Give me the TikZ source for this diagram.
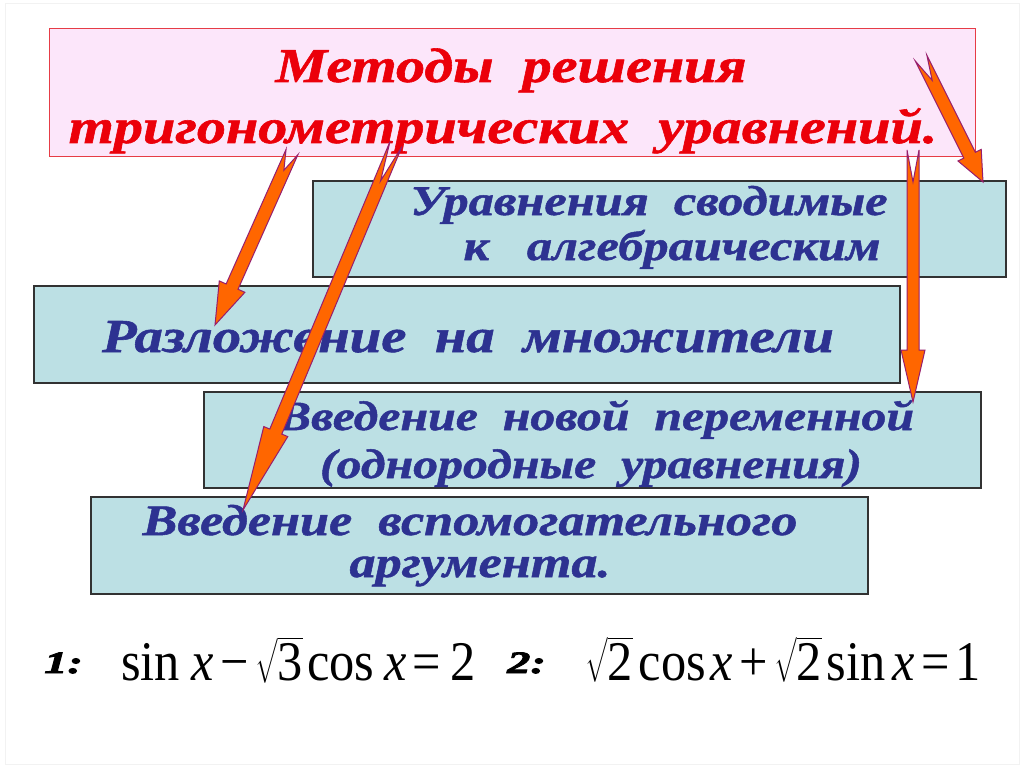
\documentclass[tikz,border=0pt]{standalone}
\usepackage{fontspec}
\usepackage{amsmath}
\usepackage{graphicx}
\setmainfont{Liberation Serif}
\newfontfamily\wfont[FakeStretch=1.2,FakeBold=1.2]{Liberation Serif}
\newfontfamily\lblfont[FakeStretch=1.5,FakeBold=3]{Liberation Serif}
\usetikzlibrary{calc}
\definecolor{titlefill}{RGB}{252,230,250}
\definecolor{titledraw}{RGB}{230,60,70}
\definecolor{titletext}{RGB}{235,0,10}
\definecolor{boxfill}{RGB}{188,224,228}
\definecolor{boxdraw}{RGB}{50,50,50}
\definecolor{boxtext}{RGB}{45,50,145}
\definecolor{arrfill}{RGB}{255,102,0}
\definecolor{arrdraw}{RGB}{150,30,110}
\newcommand{\blockarrow}[6]{%
  \coordinate (ba-h) at ($(#2)!#5!(#1)$);
  \filldraw[fatarrow] ($(#1)!#3!90:(#2)$) -- ($(ba-h)!#3!90:(#2)$) -- ($(ba-h)!#4!90:(#2)$) -- (#2)
    -- ($(ba-h)!#4!-90:(#2)$) -- ($(ba-h)!#3!-90:(#2)$) -- ($(#1)!#3!-90:(#2)$) -- ($(#1)!#6!(#2)$) -- cycle;
}
\tikzset{
  titlebox/.style={draw=titledraw, line width=1pt, fill=titlefill, inner sep=0pt},
  methodbox/.style={draw=boxdraw, line width=1.5pt, fill=boxfill, inner sep=0pt},
  titleline/.style={anchor=base, inner sep=0pt, text=titletext, font=\wfont\bfseries\itshape\fontsize{48.5}{50}\selectfont},
  boxline/.style={anchor=base, inner sep=0pt, text=boxtext},
  fatarrow/.style={fill=arrfill, draw=arrdraw, line width=1pt, line join=miter},
  eqtext/.style={anchor=base west, inner sep=0pt, font=\fontsize{56}{58}\selectfont},
  eqlabel/.style={anchor=base west, inner sep=0pt, font=\lblfont\bfseries\itshape\fontsize{31}{33}\selectfont}
}
\begin{document}
\begin{tikzpicture}[x=1pt,y=-1pt]
\useasboundingbox (0,0) rectangle (1024,767);
\fill[white] (0,0) rectangle (1024,767);
\draw[black!5, line width=1pt] (5,4) rectangle (1019,764);

% boxes
\node[titlebox, minimum width=926, minimum height=128] (title) at (512,93) {};
\node[methodbox, minimum width=693, minimum height=96] (alg) at (659.5,229) {};
\node[methodbox, minimum width=866, minimum height=97] (fact) at (467,334.5) {};
\node[methodbox, minimum width=777, minimum height=96] (newvar) at (592.5,440) {};
\node[methodbox, minimum width=777, minimum height=97] (aux) at (479.5,545.5) {};

% texts
\node[titleline] (title1) at (511,82) {Методы\ \ решения};
\node[titleline] (title2) at (503,143) {тригонометрических\ \ уравнений.};
\node[boxline, font=\wfont\bfseries\itshape\fontsize{42}{44}\selectfont] (alg1) at (649,215) {Уравнения\ \ сводимые};
\node[boxline, font=\wfont\bfseries\itshape\fontsize{42}{44}\selectfont] (alg2) at (672,260) {к\ \ \ алгебраическим};
\node[boxline, font=\wfont\bfseries\itshape\fontsize{47.3}{50}\selectfont] (fact1) at (468,352) {Разложение\ \ на\ \ множители};
\node[boxline, font=\wfont\bfseries\itshape\fontsize{41.5}{44}\selectfont] (newvar1) at (596,430) {Введение\ \ новой\ \ переменной};
\node[boxline, font=\wfont\bfseries\itshape\fontsize{41.5}{44}\selectfont] (newvar2) at (591,478) {(однородные\ \ уравнения)};
\node[boxline, font=\wfont\bfseries\itshape\fontsize{43.5}{46}\selectfont] (aux1) at (470,535) {Введение\ \ вспомогательного};
\node[boxline, font=\wfont\bfseries\itshape\fontsize{43.5}{46}\selectfont] (aux2) at (480,577) {аргумента.};

% equations
\node[eqlabel] (l1) at (44,673) {1:};
\node[eqtext] (e1) at (121,680) {\scalebox{0.9}[1]{sin\hspace{13.1pt}\textit{x}\hspace{7.1pt}−\hspace{7.1pt}$\sqrt{\text{3}}$\hspace{4.8pt}cos\hspace{10.7pt}\textit{x}\hspace{7.1pt}=\hspace{10.7pt}2}};
\node[eqlabel] (l2) at (507,673) {2:};
\node[eqtext] (e2) at (585,680) {\scalebox{0.9}[1]{$\sqrt{\text{2}}$\hspace{6.6pt}cos\hspace{5.4pt}\textit{x}\hspace{6.6pt}+\hspace{7.8pt}$\sqrt{\text{2}}$\hspace{5.4pt}sin\hspace{7.8pt}\textit{x}\hspace{6.6pt}=\hspace{6.6pt}1}};

% arrows
\coordinate (aT) at (292,152); \coordinate (aH) at (215,325);
\coordinate (bT) at (396,144); \coordinate (bH) at (243,510);
\coordinate (cT) at (913,150); \coordinate (cH) at (913,402);
\coordinate (dT) at (921,58);  \coordinate (dH) at (983,182);
\blockarrow{aT}{aH}{6.5pt}{14pt}{42pt}{20pt}
\blockarrow{bT}{bH}{6.5pt}{13pt}{85pt}{40pt}
\blockarrow{cT}{cH}{6pt}{12pt}{52pt}{32pt}
\blockarrow{dT}{dH}{6.5pt}{13pt}{30pt}{25pt}
\end{tikzpicture}
\end{document}
